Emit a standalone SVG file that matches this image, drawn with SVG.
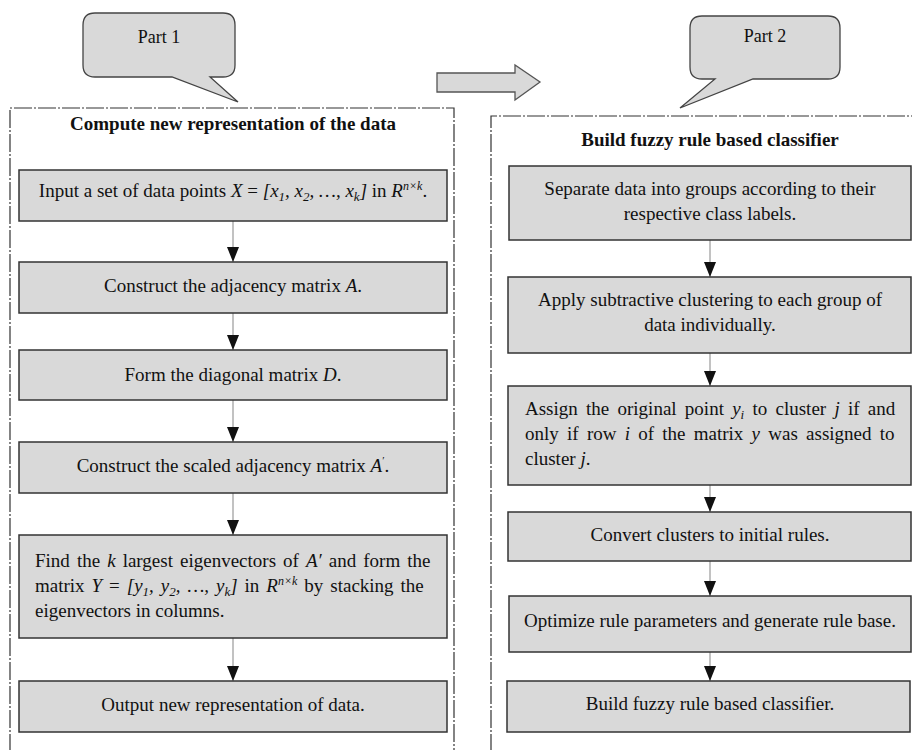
<svg xmlns="http://www.w3.org/2000/svg" width="912" height="750" viewBox="0 0 912 750">
<style>
text{font-family:"Liberation Serif","Times New Roman",serif;font-size:19px;fill:#111}
.c{text-anchor:middle}
.t{font-weight:bold}
.i{font-style:italic}
.box{fill:#d9d9d9;stroke:#333;stroke-width:1.5}
.call{fill:#d9d9d9;stroke:#444;stroke-width:1.3}
.frame{fill:none;stroke:#333;stroke-width:1.2;stroke-dasharray:18 2 2 2}
.conn{stroke:#999;stroke-width:1.2;fill:none}
</style>
<defs>
<marker id="ah" markerWidth="15" markerHeight="12" refX="15" refY="6" orient="auto" markerUnits="userSpaceOnUse" viewBox="0 0 15 12">
<path d="M0,0 L15,6 L0,12 Z" fill="#111"/>
</marker>
</defs>

<g id="frames">
<path class="frame" d="M10,752 L10,108 L454,108 L454,752"/>
<path class="frame" d="M491,752 L491,116 L914,116"/>
</g>

<g id="callout1">
<path class="call" d="M95,13 L223,13 Q235,13 235,25 L235,65 Q235,77 223,77 L210,77 L238,102 L172,77 L95,77 Q83,77 83,65 L83,25 Q83,13 95,13 Z"/>
<text x="159" y="43" class="c" style="font-size:18px">Part 1</text>
</g>

<g id="callout2">
<path class="call" d="M702,16 L828,16 Q840,16 840,28 L840,67 Q840,79 828,79 L753,79 L680,108 L715,79 L702,79 Q690,79 690,67 L690,28 Q690,16 702,16 Z"/>
<text x="765" y="42" class="c" style="font-size:18px">Part 2</text>
</g>

<g id="bigarrow">
<polygon points="437,73 515,73 515,65 540,82 515,100 515,92 437,92" fill="#d9d9d9" stroke="#555" stroke-width="1.3"/>
</g>

<g id="title1"><text x="233" y="130" class="c t">Compute new representation of the data</text></g>
<g id="title2"><text x="710" y="146" class="c t">Build fuzzy rule based classifier</text></g>

<g id="connectors">
<line class="conn" x1="233" y1="221" x2="233" y2="262" marker-end="url(#ah)"/>
<line class="conn" x1="233" y1="313" x2="233" y2="350" marker-end="url(#ah)"/>
<line class="conn" x1="233" y1="400" x2="233" y2="442" marker-end="url(#ah)"/>
<line class="conn" x1="233" y1="493" x2="233" y2="535" marker-end="url(#ah)"/>
<line class="conn" x1="233" y1="638" x2="233" y2="681" marker-end="url(#ah)"/>
<line class="conn" x1="710" y1="240" x2="710" y2="277" marker-end="url(#ah)"/>
<line class="conn" x1="710" y1="353" x2="710" y2="386" marker-end="url(#ah)"/>
<line class="conn" x1="710" y1="485" x2="710" y2="512" marker-end="url(#ah)"/>
<line class="conn" x1="710" y1="561" x2="710" y2="596" marker-end="url(#ah)"/>
<line class="conn" x1="710" y1="652" x2="710" y2="681" marker-end="url(#ah)"/>
</g>

<g id="L1">
<rect class="box" x="19" y="170" width="428" height="51"/>
<text x="233" y="197" class="c">Input a set of data points <tspan class="i">X</tspan> = <tspan class="i">[x<tspan dy="4" style="font-size:13px">1</tspan><tspan dy="-4">, x</tspan><tspan dy="4" style="font-size:13px">2</tspan><tspan dy="-4">, …, x</tspan><tspan dy="4" style="font-size:13px">k</tspan><tspan dy="-4">]</tspan></tspan> in <tspan class="i">R</tspan><tspan dy="-7" class="i" style="font-size:12px">n×k</tspan><tspan dy="7">.</tspan></text>
</g>
<g id="L2">
<rect class="box" x="19" y="262" width="428" height="51"/>
<text x="233" y="292" class="c">Construct the adjacency matrix <tspan class="i">A</tspan>.</text>
</g>
<g id="L3">
<rect class="box" x="19" y="350" width="428" height="50"/>
<text x="233" y="381" class="c">Form the diagonal matrix <tspan class="i">D</tspan>.</text>
</g>
<g id="L4">
<rect class="box" x="19" y="442" width="428" height="51"/>
<text x="233" y="472" class="c">Construct the scaled adjacency matrix <tspan class="i">A</tspan><tspan dy="-8" style="font-size:11px">′</tspan><tspan dy="8">.</tspan></text>
</g>
<g id="L5">
<rect class="box" x="19" y="535" width="428" height="103"/>
<text x="35" y="567" style="word-spacing:2.3px">Find the <tspan class="i">k</tspan> largest eigenvectors of <tspan class="i">A′</tspan> and form the</text>
<text x="35" y="592" style="word-spacing:2.2px">matrix <tspan class="i">Y</tspan> = <tspan class="i">[y<tspan dy="4" style="font-size:13px">1</tspan><tspan dy="-4">, y</tspan><tspan dy="4" style="font-size:13px">2</tspan><tspan dy="-4">, …, y</tspan><tspan dy="4" style="font-size:13px">k</tspan><tspan dy="-4">]</tspan></tspan> in <tspan class="i">R</tspan><tspan dy="-7" class="i" style="font-size:12px">n×k</tspan><tspan dy="7"> by stacking the</tspan></text>
<text x="35" y="617">eigenvectors in columns.</text>
</g>
<g id="L6">
<rect class="box" x="19" y="681" width="428" height="51"/>
<text x="233" y="711" class="c">Output new representation of data.</text>
</g>

<g id="R1">
<rect class="box" x="509" y="166" width="402" height="74"/>
<text x="710" y="195" class="c">Separate data into groups according to their</text>
<text x="710" y="220" class="c">respective class labels.</text>
</g>
<g id="R2">
<rect class="box" x="508" y="277" width="403" height="76"/>
<text x="710" y="306" class="c">Apply subtractive clustering to each group of</text>
<text x="710" y="331" class="c">data individually.</text>
</g>
<g id="R3">
<rect class="box" x="508" y="386" width="403" height="99"/>
<text x="525" y="415" style="word-spacing:3.5px">Assign the original point <tspan class="i">y</tspan><tspan dy="4" class="i" style="font-size:13px">i</tspan><tspan dy="-4"> to cluster </tspan><tspan class="i">j</tspan> if and</text>
<text x="525" y="440" style="word-spacing:3.5px">only if row <tspan class="i">i</tspan> of the matrix <tspan class="i">y</tspan> was assigned to</text>
<text x="525" y="465">cluster <tspan class="i">j</tspan>.</text>
</g>
<g id="R4">
<rect class="box" x="508" y="512" width="403" height="49"/>
<text x="710" y="541" class="c">Convert clusters to initial rules.</text>
</g>
<g id="R5">
<rect class="box" x="509" y="596" width="402" height="56"/>
<text x="710" y="627" class="c">Optimize rule parameters and generate rule base.</text>
</g>
<g id="R6">
<rect class="box" x="507" y="681" width="403" height="51"/>
<text x="710" y="710" class="c">Build fuzzy rule based classifier.</text>
</g>
</svg>
